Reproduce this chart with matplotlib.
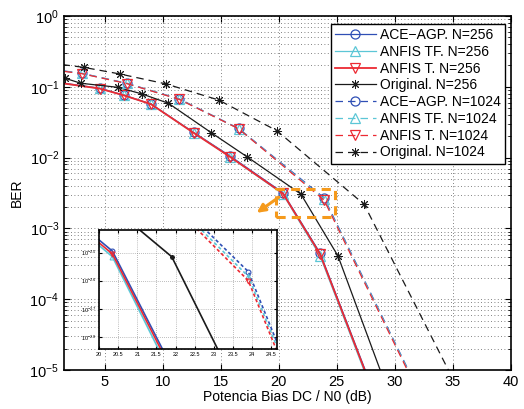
import matplotlib
matplotlib.use('Agg')
import matplotlib.pyplot as plt
import matplotlib.patches as mpatches
import numpy as np

plt.rcParams['font.family'] = ['Liberation Sans', 'DejaVu Sans']
plt.rcParams['mathtext.fontset'] = 'custom'
plt.rcParams['mathtext.rm'] = 'Liberation Sans'
plt.rcParams['mathtext.it'] = 'Liberation Sans:italic'
plt.rcParams['mathtext.bf'] = 'Liberation Sans:bold'

# BER curves (x in dB, y as log10(BER))
x_ace_256 = [0.5, 4.57, 6.64, 8.99, 12.66, 15.76, 20.35, 23.56, 28.5]
ace_256 = [-0.927, -1.02, -1.118, -1.243, -1.643, -1.973, -2.495, -3.35, -5.45]
tf_256 = [-0.935, -1.022, -1.12, -1.245, -1.648, -1.985, -2.515, -3.39, -5.50]
t_256 = [-0.930, -1.025, -1.12, -1.245, -1.650, -1.985, -2.505, -3.365, -5.47]

x_orig_256 = [1.6, 2.95, 6.12, 8.2, 10.5, 14.18, 17.25, 21.9, 25.1, 29.5]
orig_256 = [-0.88, -0.95, -1.007, -1.10, -1.233, -1.648, -1.987, -2.515, -3.39, -5.34]

x_ace_1024 = [0.5, 3.05, 6.92, 11.43, 16.53, 23.9, 32.5]
ace_1024 = [-0.755, -0.81, -0.951, -1.172, -1.587, -2.568, -5.45]
tf_1024 = [-0.757, -0.812, -0.953, -1.175, -1.59, -2.585, -5.46]
t_1024 = [-0.760, -0.815, -0.955, -1.178, -1.592, -2.60, -5.48]

x_orig_1024 = [0.3, 3.19, 6.35, 10.3, 14.81, 19.83, 27.35, 36.0]
orig_1024 = [-0.664, -0.725, -0.82, -0.96, -1.186, -1.62, -2.66, -5.45]

labels = ['ACE\u2212AGP. N=256', 'ANFIS TF. N=256', 'ANFIS T. N=256', 'Original. N=256',
          'ACE\u2212AGP. N=1024', 'ANFIS TF. N=1024', 'ANFIS T. N=1024', 'Original. N=1024']

x_ticks = [5, 10, 15, 20, 25, 30, 35, 40]
inset_xticks = [20, 20.5, 21, 21.5, 22, 22.5, 23, 23.5, 24, 24.5]
inset_yexp = [-2.5, -2.6, -2.7, -2.8]

# zoomed region
zoom_x = (19.8, 24.85)
zoom_y = (10 ** -2.845, 10 ** -2.45)
inset_xlim = (20, 24.65)
inset_ylim = (10 ** -2.843, 10 ** -2.42)

blue = '#2f4fb5'
cyan = '#5cc6d6'
red = '#ec2a33'
black = '#1a1a1a'
orange = '#f59a1c'
asterisk = (8, 2, 0)

series = [
    (x_ace_256, ace_256, blue, '-', 'o'),
    (x_ace_256, tf_256, cyan, '-', '^'),
    (x_ace_256, t_256, red, '-', 'v'),
    (x_orig_256, orig_256, black, '-', asterisk),
    (x_ace_1024, ace_1024, blue, (0, (6, 4)), 'o'),
    (x_ace_1024, tf_1024, cyan, (0, (6, 4)), '^'),
    (x_ace_1024, t_1024, red, (0, (6, 4)), 'v'),
    (x_orig_1024, orig_1024, black, (0, (6, 4)), asterisk),
]


def build_graph():
    fig = plt.figure(figsize=(5.24, 4.09), dpi=100)
    ax = fig.add_axes([64 / 524, 1 - 370 / 409, 447 / 524, 354 / 409])

    for (xs, ys, col, ls, mk), lab in zip(series, labels):
        lw = 1.3 if col == red and ls == '-' else 0.9
        mew = 0.7 if mk == asterisk else 0.9
        ax.plot(xs, 10 ** np.array(ys), color=col, linestyle=ls, marker=mk,
                markersize=6.5, markerfacecolor='none', markeredgewidth=mew,
                linewidth=lw, label=lab)

    ax.set_yscale('log')
    ax.set_xlim(1.5, 40)
    ax.set_ylim(1e-5, 1)
    ax.set_xticks(x_ticks)
    ax.grid(True, which='major', linestyle=(0, (1, 3)), color='0.35', linewidth=0.6)
    ax.grid(True, which='minor', axis='y', linestyle=(0, (1, 3)), color='0.35', linewidth=0.6)
    ax.tick_params(which='both', direction='in', top=True, right=True, labelsize=10.5)
    ax.tick_params(which='major', length=4)
    ax.tick_params(which='minor', length=2)
    for s in ax.spines.values():
        s.set_linewidth(1.2)
    ax.set_xlabel('Potencia Bias DC / N0 (dB)', fontsize=10, labelpad=1)
    ax.set_ylabel('BER', fontsize=10, labelpad=4)

    leg = ax.legend(loc='upper right', bbox_to_anchor=(0.986, 0.978), fontsize=10,
                    handlelength=2.9, handletextpad=0.3, labelspacing=0.2,
                    borderpad=0.3, fancybox=False, framealpha=1, borderaxespad=0)
    leg.get_frame().set_edgecolor('black')
    leg.get_frame().set_linewidth(1.0)

    # orange box marking the zoomed region plus arrow toward the inset
    rect = mpatches.Rectangle((zoom_x[0], zoom_y[0]), zoom_x[1] - zoom_x[0],
                              zoom_y[1] - zoom_y[0], fill=False, edgecolor=orange,
                              linewidth=2.2, linestyle=(0, (3, 2)), zorder=5)
    ax.add_patch(rect)
    ax.annotate('', xy=(18.1, 10 ** -2.78), xytext=(20.0, 10 ** -2.56),
                arrowprops=dict(arrowstyle='-|>', color=orange, lw=2.2,
                                mutation_scale=12, shrinkA=0, shrinkB=0), zorder=5)

    # inset
    axi = fig.add_axes([99 / 524, 1 - 349 / 409, 178 / 524, 119 / 409])
    for xs, ys, col, ls, mk in series:
        ils = '-' if ls == '-' else (0, (2, 1.5))
        axi.plot(xs, 10 ** np.array(ys), color=col, linestyle=ils, marker=mk,
                 markersize=3.5, markerfacecolor='none', markeredgewidth=0.8,
                 linewidth=1.2)
    axi.set_yscale('log')
    axi.set_xlim(*inset_xlim)
    axi.set_ylim(*inset_ylim)
    axi.set_xticks(inset_xticks)
    axi.set_xticklabels([f'{v:g}' for v in inset_xticks])
    axi.set_yticks([10 ** e for e in inset_yexp])
    axi.set_yticklabels([f'$10^{{{e:g}}}$' for e in inset_yexp])
    axi.minorticks_off()
    axi.grid(True, linestyle=(0, (1, 2)), color='0.5', linewidth=0.5)
    axi.tick_params(direction='in', top=True, right=True, labelsize=4, length=2, pad=2)
    for s in axi.spines.values():
        s.set_linewidth(1.2)

    fig.savefig('out.png', dpi=100)


def main():
    build_graph()


if __name__ == "__main__":
    main()
